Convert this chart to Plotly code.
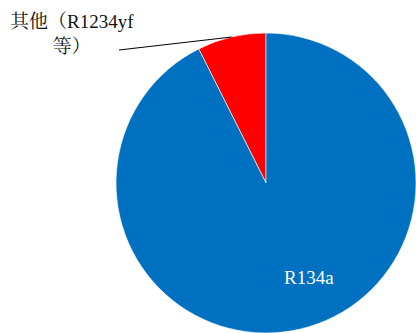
import math
import plotly.graph_objects as go

# Market share of refrigerants
labels = ["其他（R1234yf等）", "R134a"]
values = [7.4, 92.6]
colors = ["#FF0000", "#0070C0"]

W, H = 416, 333
# pie placement in pixels (square region of 300 px)
x0, x1 = 116, 416
y0, y1 = 0, 300

fig = go.Figure(go.Pie(
    labels=labels,
    values=values,
    sort=False,
    direction="clockwise",
    rotation=-360 * values[0] / sum(values),
    marker=dict(colors=colors, line=dict(color="white", width=0.6)),
    textinfo="none",
    hoverinfo="label+percent",
    showlegend=False,
    domain=dict(x=[x0 / W, x1 / W], y=[y0 / H, y1 / H]),
))

font_main = "Times New Roman, Liberation Serif, Noto Serif CJK SC, Noto Sans CJK SC, serif"

# leader line from label to rim of the small slice, at its mid-angle
cx, cy = (x0 + x1) / 2, H - (y0 + y1) / 2
r = (x1 - x0) / 2
share = values[0] / sum(values)
ang = math.radians(360 * share / 2)  # measured counterclockwise from 12 o'clock
ex, ey = cx - r * math.sin(ang), cy - r * math.cos(ang)

fig.add_shape(type="line", xref="paper", yref="paper",
              x0=119 / W, y0=1 - 50 / H, x1=ex / W, y1=1 - ey / H,
              line=dict(color="black", width=1))

fig.add_annotation(x=72 / W, y=1 - 34 / H, xref="paper", yref="paper",
                   text="其他（R1234yf<br>等）", showarrow=False,
                   font=dict(family=font_main, size=19, color="#111111"),
                   align="center", xanchor="center", yanchor="middle")

fig.add_annotation(x=309 / W, y=1 - 277 / H, xref="paper", yref="paper",
                   text="R134a", showarrow=False,
                   font=dict(family=font_main, size=19, color="white"),
                   xanchor="center", yanchor="middle")

fig.update_layout(width=W, height=H, margin=dict(l=0, r=0, t=0, b=0),
                  paper_bgcolor="white", plot_bgcolor="white")

fig.write_html("out.html")
